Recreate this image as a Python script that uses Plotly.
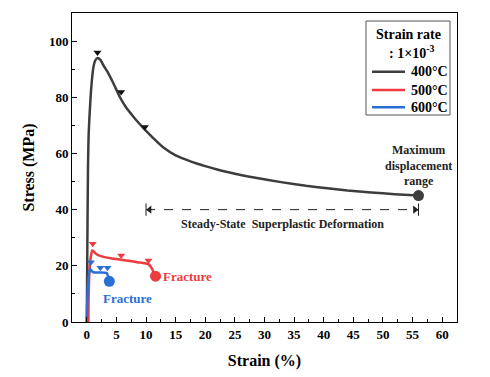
import plotly.graph_objects as go

# ---- data ----
strain_400 = [0, 0.1, 0.2, 0.3, 0.4, 0.5, 0.7, 0.9, 1.1, 1.4, 1.8, 2.3, 2.8, 3.5, 4.5, 5.6, 6.5, 7.9, 9.0, 10.0,
              11.3, 13, 15, 17.5, 20, 22, 25, 28, 32.8, 37, 41, 44, 48, 52, 56]
stress_400 = [0, 30, 55, 66, 71, 75, 82, 87, 90.5, 93, 94, 93.3, 91.4, 89, 84.9, 80, 76.8, 73, 70.3, 68,
              65.3, 62, 59.3, 57.2, 55.5, 54.3, 52.8, 51.5, 49.8, 48.5, 47.5, 46.8, 46.1, 45.5, 45]
strain_500 = [0.27, 0.3, 0.4, 0.5, 0.7, 0.9, 1.2, 1.6, 2.0, 3, 4, 5, 6, 7.3, 8.5, 9.5, 10.2, 10.6, 11.0, 11.3, 11.6]
stress_500 = [0, 8, 16, 20, 23.5, 25.5, 25, 24.2, 23.7, 23.1, 22.7, 22.4, 22.1, 21.7, 21.3, 21.0, 20.7, 20.2, 19, 17.6, 16.3]
strain_600 = [0, 0.05, 0.15, 0.3, 0.45, 0.56, 0.8, 1.1, 1.5, 2, 2.5, 3, 3.4, 3.6, 3.8]
stress_600 = [0, 6, 12, 16, 18.2, 19, 18.2, 17.7, 17.6, 17.6, 17.6, 17.5, 17.4, 16, 14.5]

marks_400_x = [1.8, 5.8, 9.8]
marks_400_y = [95.9, 81.9, 69.4]
marks_500_x = [1.0, 5.8, 10.4]
marks_500_y = [27.9, 23.7, 21.9]
marks_600_x = [0.7, 2.3, 3.5]
marks_600_y = [21.3, 19.3, 19.3]

labels = ["400°C", "500°C", "600°C"]
colors = ["#3d3d3d", "#ee3b3f", "#2a6fd6"]

steady_start, steady_end, steady_y = 10, 56, 40

x_ticks = list(range(0, 61, 5))
y_ticks = list(range(0, 101, 20))

FONT = "Liberation Serif, Times New Roman, serif"

fig = go.Figure()
curves = [(strain_400, stress_400, marks_400_x, marks_400_y),
          (strain_500, stress_500, marks_500_x, marks_500_y),
          (strain_600, stress_600, marks_600_x, marks_600_y)]
for (sx, sy, mx, my), lab, col in zip(curves, labels, colors):
    fig.add_trace(go.Scatter(x=sx, y=sy, mode="lines", name=lab,
                             line=dict(color=col, width=2.5, shape="spline", smoothing=0.5),
                             showlegend=False, hoverinfo="skip"))
    fig.add_trace(go.Scatter(x=[sx[-1]], y=[sy[-1]], mode="markers",
                             marker=dict(color=col, size=11, symbol="circle"),
                             showlegend=False))
    fig.add_trace(go.Scatter(x=mx, y=my, mode="markers",
                             marker=dict(color="#111111" if lab == "400°C" else col, size=7,
                                         symbol="triangle-down"),
                             showlegend=False))

# steady-state range line with arrowheads
fig.add_trace(go.Scatter(x=[steady_start, steady_end], y=[steady_y, steady_y], mode="lines",
                         line=dict(color="#222222", width=1, dash="dash"),
                         showlegend=False, hoverinfo="skip"))
fig.add_trace(go.Scatter(x=[steady_start + 0.6, steady_end - 0.6], y=[steady_y, steady_y], mode="markers",
                         marker=dict(symbol=["triangle-left", "triangle-right"], size=7, color="#222222"),
                         showlegend=False, hoverinfo="skip"))
for xe in (steady_start, steady_end):
    fig.add_shape(type="line", x0=xe, x1=xe, y0=steady_y - 2.2, y1=steady_y + 2.2,
                  line=dict(color="#222222", width=1))
fig.add_annotation(x=(steady_start + steady_end) / 2, y=steady_y, yshift=-14, showarrow=False,
                   text="<b>Steady-State  Superplastic Deformation</b>",
                   font=dict(family=FONT, size=12, color="#222222"))
fig.add_annotation(x=strain_400[-1], y=stress_400[-1], yshift=30, showarrow=False,
                   text="<b>Maximum<br>displacement<br>range</b>",
                   font=dict(family=FONT, size=12, color="#222222"))
fig.add_annotation(x=strain_500[-1], y=stress_500[-1], xshift=5, showarrow=False, xanchor="left",
                   text="<b>Fracture</b>", font=dict(family=FONT, size=13, color=colors[1]))
fig.add_annotation(x=strain_600[-1], y=stress_600[-1], xshift=18, yshift=-17, showarrow=False,
                   text="<b>Fracture</b>", font=dict(family=FONT, size=13, color=colors[2]))

# ---- manual legend box (paper coords) ----
fig.add_shape(type="rect", xref="paper", yref="paper", x0=0.7636, x1=0.9818, y0=0.6699, y1=0.9741,
              line=dict(color="#555555", width=1), fillcolor="white", layer="above")
fig.add_annotation(xref="paper", yref="paper", x=0.8745, y=0.9298, xanchor="center", yanchor="middle",
                   showarrow=False,
                   text="<b>Strain rate</b>", font=dict(family=FONT, size=14, color="black"))
fig.add_annotation(xref="paper", yref="paper", x=0.8830, y=0.8748, xanchor="center", yanchor="middle",
                   showarrow=False,
                   text="<b>: 1×10<sup>-3</sup></b>", font=dict(family=FONT, size=14, color="black"))
legend_rows_y = [0.8100, 0.7508, 0.6948]
for lab, col, ly in zip(labels, colors, legend_rows_y):
    fig.add_shape(type="line", xref="paper", yref="paper", x0=0.7792, x1=0.8649, y0=ly, y1=ly,
                  line=dict(color=col, width=2.5), layer="above")
    fig.add_annotation(xref="paper", yref="paper", x=0.8753, y=ly, xanchor="left", yanchor="middle",
                       showarrow=False,
                       text=f"<b>{lab}</b>", font=dict(family=FONT, size=14, color="black"))

axis_common = dict(showline=True, linecolor="black", linewidth=1, mirror=True, ticks="inside",
                   tickcolor="black", ticklen=5, showgrid=False, zeroline=False, automargin=False,
                   tickfont=dict(family=FONT, size=13, color="black"))
fig.update_xaxes(range=[-2.5, 62.5], tickvals=x_ticks, ticktext=[f"<b>{v}</b>" for v in x_ticks],
                 minor=dict(ticks="inside", ticklen=3, dtick=2.5, tickcolor="black", tick0=0),
                 title=dict(text="<b>Strain (%)</b>", font=dict(family=FONT, size=16, color="black"),
                            standoff=14),
                 **axis_common)
fig.update_yaxes(range=[0, 110], tickvals=y_ticks, ticktext=[f"<b>{v}</b>" for v in y_ticks],
                 minor=dict(ticks="inside", ticklen=3, dtick=10, tickcolor="black", tick0=0),
                 title=dict(text="<b>Stress (MPa)</b>", font=dict(family=FONT, size=16, color="black"),
                            standoff=10),
                 **axis_common)

# page body has an 8px default margin, so margins are compensated
fig.update_layout(
    width=490, height=377,
    margin=dict(l=64, r=41, t=5, b=63),
    plot_bgcolor="white", paper_bgcolor="white",
    font=dict(family=FONT, color="black"),
    showlegend=False,
)

fig.write_html("out.html")
